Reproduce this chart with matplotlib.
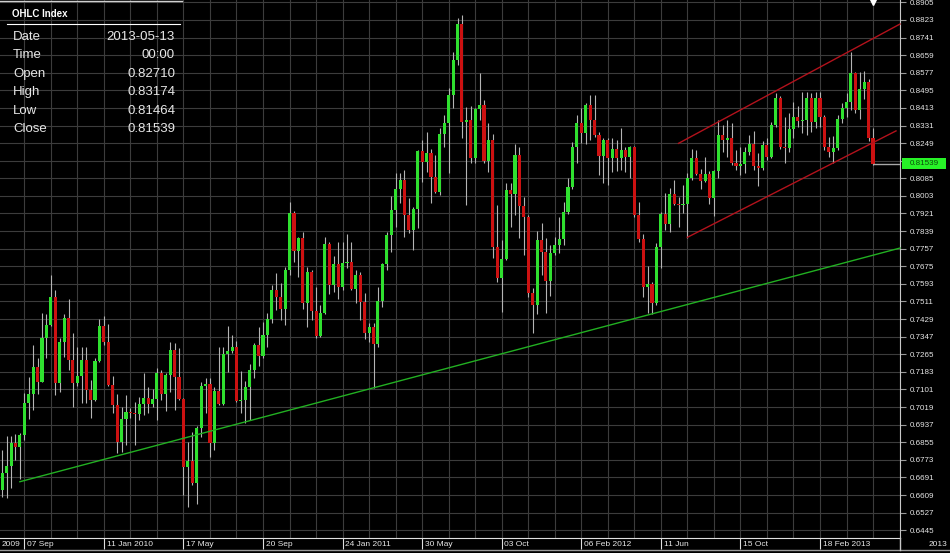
import numpy as np
import pandas as pd
import matplotlib
matplotlib.use("Agg")
import matplotlib.pyplot as plt
import matplotlib.transforms as mtransforms
from matplotlib.patches import Rectangle

plt.rcParams['font.family'] = ['Liberation Sans', 'DejaVu Sans']

# weekly bars, 03 Aug 2009 .. 13 May 2013
dates = pd.date_range("2009-08-03", "2013-05-13", freq="7D")

closes = [
    0.6712, 0.6744, 0.6852, 0.6833, 0.6889, 0.7038, 0.7080, 0.7206, 0.7136, 0.7341,
    0.7401, 0.7532, 0.7131, 0.7322, 0.7434, 0.7238, 0.7131, 0.7164, 0.7238, 0.7099,
    0.7052, 0.7234, 0.7397, 0.7322, 0.7122, 0.7029, 0.6856, 0.6963, 0.6996, 0.6991,
    0.6987, 0.7033, 0.7061, 0.7033, 0.7057, 0.7178, 0.7080, 0.7168, 0.7285, 0.7159,
    0.7057, 0.6740, 0.6768, 0.6665, 0.6922, 0.7117, 0.7127, 0.6852, 0.7094, 0.7033,
    0.7266, 0.7280, 0.7299, 0.7047, 0.7052, 0.7113, 0.7192, 0.7308, 0.7257, 0.7355,
    0.7429, 0.7565, 0.7532, 0.7476, 0.7658, 0.7923, 0.7746, 0.7807, 0.7504, 0.7648,
    0.7467, 0.7350, 0.7457, 0.7779, 0.7588, 0.7686, 0.7579, 0.7690, 0.7695, 0.7569,
    0.7634, 0.7509, 0.7364, 0.7392, 0.7313, 0.7513, 0.7686, 0.7821, 0.7937, 0.8035,
    0.8077, 0.7914, 0.7844, 0.7942, 0.8212, 0.8161, 0.8203, 0.8091, 0.8021, 0.8292,
    0.8343, 0.8473, 0.8636, 0.8804, 0.8347, 0.8357, 0.8180, 0.8408, 0.8427, 0.8166,
    0.8264, 0.7765, 0.7621, 0.7709, 0.8031, 0.8012, 0.8194, 0.7956, 0.7905, 0.7551,
    0.7495, 0.7798, 0.7742, 0.7607, 0.7737, 0.7774, 0.7802, 0.7928, 0.8045, 0.8231,
    0.8343, 0.8296, 0.8427, 0.8357, 0.8287, 0.8189, 0.8264, 0.8180, 0.8222, 0.8180,
    0.8217, 0.8184, 0.8231, 0.7914, 0.7802, 0.7579, 0.7593, 0.7504, 0.7765, 0.7919,
    0.7872, 0.8012, 0.7965, 0.7961, 0.7965, 0.8087, 0.8180, 0.8105, 0.8073, 0.8105,
    0.7993, 0.8119, 0.8287, 0.8264, 0.8273, 0.8156, 0.8142, 0.8152, 0.8208, 0.8245,
    0.8142, 0.8133, 0.8240, 0.8184, 0.8333, 0.8459, 0.8231, 0.8226, 0.8315, 0.8371,
    0.8352, 0.8357, 0.8459, 0.8347, 0.8459, 0.8371, 0.8231, 0.8208, 0.8226, 0.8361,
    0.8413, 0.8441, 0.8576, 0.8403, 0.8501, 0.8534, 0.8271, 0.81539,
]

highs = [
    0.6819, 0.6884, 0.6884, 0.6894, 0.6898, 0.7085, 0.7159, 0.7308, 0.7248, 0.7457,
    0.7453, 0.7634, 0.7565, 0.7341, 0.7453, 0.7523, 0.7364, 0.7299, 0.7299, 0.7299,
    0.7145, 0.7248, 0.7429, 0.7443, 0.7406, 0.7164, 0.7080, 0.7019, 0.7075, 0.7015,
    0.7043, 0.7066, 0.7178, 0.7113, 0.7103, 0.7201, 0.7192, 0.7178, 0.7322, 0.7318,
    0.7294, 0.7061, 0.6856, 0.6903, 0.6931, 0.7136, 0.7155, 0.7155, 0.7113, 0.7299,
    0.7299, 0.7397, 0.7355, 0.7327, 0.7187, 0.7141, 0.7220, 0.7318, 0.7392, 0.7415,
    0.7457, 0.7588, 0.7644, 0.7597, 0.7672, 0.7975, 0.7933, 0.7812, 0.7835, 0.7672,
    0.7658, 0.7579, 0.7495, 0.7812, 0.7788, 0.7723, 0.7788, 0.7788, 0.7826, 0.7788,
    0.7658, 0.7648, 0.7551, 0.7411, 0.7411, 0.7579, 0.7690, 0.7835, 0.8003, 0.8110,
    0.8110, 0.8124, 0.7993, 0.7951, 0.8217, 0.8264, 0.8301, 0.8222, 0.8194, 0.8320,
    0.8380, 0.8506, 0.8674, 0.8832, 0.8846, 0.8417, 0.8422, 0.8413, 0.8576, 0.8450,
    0.8343, 0.8292, 0.7961, 0.7798, 0.8063, 0.8063, 0.8245, 0.8231, 0.7998, 0.7914,
    0.7574, 0.7840, 0.7877, 0.7807, 0.7774, 0.7812, 0.7905, 0.7975, 0.8087, 0.8254,
    0.8380, 0.8413, 0.8436, 0.8473, 0.8473, 0.8301, 0.8273, 0.8273, 0.8273, 0.8264,
    0.8320, 0.8231, 0.8236, 0.8236, 0.7975, 0.7826, 0.7676, 0.7600, 0.7784, 0.7928,
    0.8017, 0.8040, 0.8077, 0.7998, 0.8054, 0.8110, 0.8222, 0.8217, 0.8128, 0.8184,
    0.8119, 0.8124, 0.8357, 0.8333, 0.8357, 0.8343, 0.8217, 0.8231, 0.8231, 0.8287,
    0.8306, 0.8203, 0.8259, 0.8273, 0.8347, 0.8483, 0.8469, 0.8371, 0.8389, 0.8441,
    0.8422, 0.8487, 0.8487, 0.8483, 0.8487, 0.8487, 0.8380, 0.8278, 0.8282, 0.8380,
    0.8436, 0.8483, 0.8674, 0.8580, 0.8580, 0.8585, 0.8548, 0.83174,
]

lows = [
    0.6600, 0.6595, 0.6642, 0.6772, 0.6684, 0.6866, 0.6963, 0.7005, 0.7080, 0.7136,
    0.7248, 0.7397, 0.7075, 0.7089, 0.7252, 0.7192, 0.7019, 0.7117, 0.7038, 0.7038,
    0.6968, 0.7047, 0.7229, 0.7308, 0.7117, 0.6991, 0.6805, 0.6810, 0.6842, 0.6968,
    0.6842, 0.6959, 0.6982, 0.6991, 0.7019, 0.6959, 0.7052, 0.7001, 0.7089, 0.7005,
    0.7052, 0.6609, 0.6553, 0.6656, 0.6567, 0.6880, 0.6991, 0.6786, 0.6819, 0.7029,
    0.7029, 0.7182, 0.7271, 0.7043, 0.6991, 0.6945, 0.6959, 0.7155, 0.7210, 0.7248,
    0.7299, 0.7411, 0.7471, 0.7425, 0.7401, 0.7634, 0.7695, 0.7625, 0.7476, 0.7392,
    0.7425, 0.7341, 0.7346, 0.7453, 0.7546, 0.7555, 0.7523, 0.7565, 0.7667, 0.7565,
    0.7504, 0.7425, 0.7336, 0.7322, 0.7108, 0.7299, 0.7485, 0.7658, 0.7742, 0.7858,
    0.7970, 0.7812, 0.7830, 0.7751, 0.7854, 0.8068, 0.8114, 0.7970, 0.8017, 0.8007,
    0.8231, 0.8110, 0.8413, 0.8613, 0.8273, 0.7961, 0.8156, 0.8156, 0.8357, 0.8156,
    0.8114, 0.7714, 0.7602, 0.7462, 0.7704, 0.7858, 0.7914, 0.7807, 0.7728, 0.7532,
    0.7364, 0.7453, 0.7634, 0.7457, 0.7537, 0.7728, 0.7737, 0.7774, 0.7919, 0.8035,
    0.8156, 0.8250, 0.8245, 0.8264, 0.8278, 0.8101, 0.8063, 0.8054, 0.8114, 0.8119,
    0.8124, 0.8114, 0.8087, 0.7905, 0.7788, 0.7532, 0.7457, 0.7453, 0.7495, 0.7667,
    0.7844, 0.7835, 0.7961, 0.7858, 0.7923, 0.7807, 0.8077, 0.8101, 0.8035, 0.8068,
    0.7965, 0.7909, 0.8087, 0.8208, 0.8184, 0.8147, 0.8124, 0.8101, 0.8110, 0.8194,
    0.8124, 0.8049, 0.8124, 0.8170, 0.8180, 0.8324, 0.8222, 0.8156, 0.8208, 0.8273,
    0.8324, 0.8296, 0.8287, 0.8301, 0.8320, 0.8324, 0.8217, 0.8184, 0.8156, 0.8217,
    0.8343, 0.8371, 0.8403, 0.8389, 0.8361, 0.8455, 0.8259, 0.81464,
]

# weekly FX bars open where the previous week closed
opens = [0.6633] + closes[:-1]

# date axis labels
label_dates = ["2009-09-07", "2010-01-11", "2010-05-17", "2010-09-20", "2011-01-24",
               "2011-05-30", "2011-10-03", "2012-02-06", "2012-06-11", "2012-10-15",
               "2013-02-18"]
label_text = ["07 Sep", "11 Jan 2010", "17 May", "20 Sep", "24 Jan 2011", "30 May",
              "03 Oct", "06 Feb 2012", "11 Jun", "15 Oct", "18 Feb 2013"]

# drawn trend lines (bar index, price)
support_x = [4, 203.1]
support_y = [0.6671, 0.7760]
chan_up_x = [153, 203.1]
chan_up_y = [0.8248, 0.8804]
chan_lo_x = [155, 202.2]
chan_lo_y = [0.7810, 0.8306]

info_rows = [("Date", "2013-05-13"), ("Time", "00:00"), ("Open", "0.82710"),
             ("High", "0.83174"), ("Low", "0.81464"), ("Close", "0.81539")]

GREEN = "#2fe02f"
RED = "#cc1111"
GRID = "#3c3c3c"
TXT = "#e6e6e6"

W, H = 950, 553
fig = plt.figure(figsize=(W / 100, H / 100), dpi=100, facecolor="black")
ax = fig.add_axes([0, 15.5 / H, 900 / W, 537.5 / H], facecolor="black")

x = np.arange(len(closes))
o = np.array(opens)
c = np.array(closes)
up = c >= o

ax.set_xlim(-0.5, 203.1)
ax.set_ylim(0.6411, 0.8916)

# grid
yt = np.round(np.arange(0.6445, 0.8906, 0.0082), 4)
for v in yt:
    ax.axhline(v, color=GRID, lw=0.8, zorder=0)
for gx in np.arange(5, 204, 6):
    ax.axvline(gx, color=GRID, lw=0.8, zorder=0)

# candles
ax.vlines(x, lows, highs, colors="#b4b4b4", lw=0.8, zorder=2)
body = np.maximum(np.abs(c - o), 0.0004)
ax.bar(x, body, bottom=np.minimum(o, c), width=0.7,
       color=[GREEN if u else RED for u in up], linewidth=0, zorder=3)

# trend lines
ax.plot(support_x, support_y, color="#22b022", lw=1.0, zorder=4, clip_on=False)
ax.plot(chan_up_x, chan_up_y, color="#b3121c", lw=1.0, zorder=4, clip_on=False)
ax.plot(chan_lo_x, chan_lo_y, color="#b3121c", lw=1.0, zorder=4, clip_on=False)

# last price line + marker
ax.hlines(closes[-1], x[-1], 203.1, color="#a8a8a8", lw=1.0, zorder=4)
ax.plot([x[-1]], [0.8905], marker="v", color="white", ms=5, zorder=5, clip_on=False)

# y axis on the right; the label under the price tag is hidden
ax.yaxis.tick_right()
ax.set_yticks(yt)
ax.set_yticklabels(["" if abs(v - 0.8167) < 1e-6 else f"{v:.4f}" for v in yt])
ax.tick_params(axis="y", length=4, width=0.8, color="#9a9a9a", pad=3,
               labelsize=5.8, labelcolor=TXT)
for s in ["top", "left"]:
    ax.spines[s].set_visible(False)
ax.spines["right"].set_color("#c8c8c8")
ax.spines["bottom"].set_color("#e0e0e0")

# x axis: separators and labels
pos = [dates.get_loc(pd.Timestamp(d)) for d in label_dates]
ax.set_xticks(pos)
ax.tick_params(axis="x", length=8, width=0.8, color="#e0e0e0", labelbottom=False)
blend = mtransforms.blended_transform_factory(ax.transData, ax.transAxes)
for p, t in zip(pos, label_text):
    ax.text(p + 0.6, -0.0125, t, transform=blend, ha="left", va="center",
            fontsize=6, color=TXT, clip_on=False)
fig.text(2 / W, 1 - 544 / H, "2009", ha="left", va="center", fontsize=6, color=TXT)
fig.text(947 / W, 1 - 544 / H, "2013", ha="right", va="center", fontsize=6, color=TXT)
fig.add_artist(plt.Line2D([0, 1], [1 - 549.5 / H] * 2, color="#9a9a9a", lw=1))
fig.add_artist(plt.Line2D([900 / W] * 2, [1 - 549.5 / H, 1 - 537.5 / H], color="#c8c8c8", lw=1))

# current price tag
yblend = mtransforms.blended_transform_factory(ax.transAxes, ax.transData)
ax.add_patch(Rectangle((1.0022, closes[-1] - 0.0024), 0.0489, 0.0048, transform=yblend,
                       facecolor="#27f227", edgecolor="none", clip_on=False, zorder=6))
ax.text(1.0266, closes[-1], f"{closes[-1]:.5f}", transform=yblend, ha="center",
        va="center", fontsize=5.8, color="#0c4a0c", clip_on=False, zorder=7)

# OHLC info panel
fig.add_artist(plt.Line2D([0, 182 / W], [1 - 0.8 / H] * 2, color="#d0d0d0", lw=1))
fig.text(12 / W, 1 - 14 / H, "OHLC Index", fontsize=7, fontweight="bold",
         color="white", ha="left", va="center")
fig.add_artist(plt.Line2D([7 / W, 180 / W], [1 - 24 / H] * 2, color="white", lw=0.8))
for i, (k, v) in enumerate(info_rows):
    yy = 1 - (36.7 + 18.5 * i) / H
    fig.text(13 / W, yy, k, fontsize=9.5, color=TXT, ha="left", va="center")
    fig.text(175 / W, yy, v, fontsize=9.5, color=TXT, ha="right", va="center")

fig.savefig("out.png", dpi=100, facecolor="black")
